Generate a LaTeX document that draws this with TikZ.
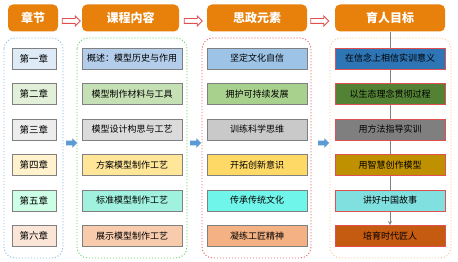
\documentclass[tikz,border=0pt]{standalone}
\usepackage{fontspec}
\newfontfamily\cjk{Noto Sans CJK SC}
\usetikzlibrary{shapes.arrows,backgrounds}
\definecolor{headorange}{RGB}{232,128,12}
\definecolor{boxgray}{RGB}{128,128,128}
\definecolor{boxred}{RGB}{224,80,80}
\definecolor{arrowblue}{RGB}{91,155,213}
% column 1 fills
\definecolor{ca1}{HTML}{DEEBF7}\definecolor{ca2}{HTML}{E2F0D9}\definecolor{ca3}{HTML}{EDEDED}
\definecolor{ca4}{HTML}{FFF2CC}\definecolor{ca5}{HTML}{CCFFE5}\definecolor{ca6}{HTML}{FBE5D6}
% column 2 fills
\definecolor{cb1}{HTML}{B4CDEA}\definecolor{cb2}{HTML}{C5E0B4}\definecolor{cb3}{HTML}{DBDBDB}
\definecolor{cb4}{HTML}{FFE699}\definecolor{cb5}{HTML}{A0F2DE}\definecolor{cb6}{HTML}{F8CBAD}
% column 3 fills
\definecolor{cc1}{HTML}{9DC3E6}\definecolor{cc2}{HTML}{A9D18E}\definecolor{cc3}{HTML}{C9C9C9}
\definecolor{cc4}{HTML}{FFD966}\definecolor{cc5}{HTML}{70F5EA}\definecolor{cc6}{HTML}{F4B183}
% column 4 fills
\definecolor{cd1}{HTML}{2E75B6}\definecolor{cd2}{HTML}{548235}\definecolor{cd3}{HTML}{7F7F7F}
\definecolor{cd4}{HTML}{BF9000}\definecolor{cd5}{HTML}{80E0E0}\definecolor{cd6}{HTML}{C55A11}
\begin{document}
\begin{tikzpicture}[x=1pt,y=-1pt,>=stealth,
  head/.style={fill=headorange,rounded corners=5pt,text=white,inner sep=0,
    font=\cjk\bfseries\fontsize{12}{12}\selectfont,minimum height=27pt},
  item/.style={draw=boxgray,line width=0.8pt,inner sep=0,minimum height=21pt,
    font=\cjk\fontsize{9}{9}\selectfont},
  chap/.style={item,minimum width=44pt,font=\cjk\fontsize{9.5}{9.5}\selectfont},
  wide/.style={item,minimum width=100pt},
  goal/.style={item,draw=boxred,minimum width=110pt},
  frame/.style={rounded corners=11pt,line width=0.9pt,dash pattern=on 1.1pt off 1.9pt},
  hollow/.style={single arrow,draw=boxred,fill=white,line width=0.8pt,inner sep=2pt,
    single arrow head extend=2.6pt,minimum height=18pt},
  solid/.style={single arrow,fill=arrowblue,inner sep=2.2pt,
    single arrow head extend=2.4pt,minimum height=11pt}]
\useasboundingbox (0,0) rectangle (458,262);

% headers
\node[head,minimum width=50pt] (h1) at (33,18) {章节};
\node[head,minimum width=97pt] (h2) at (130.5,18) {课程内容};
\node[head,minimum width=100pt] (h3) at (257,18) {思政元素};
\node[head,minimum width=110pt] (h4) at (390,18) {育人目标};
\node[hollow] (ha1) at (70,21) {};
\node[hollow] (ha2) at (192,21) {};
\node[hollow] (ha3) at (318.5,21) {};

% dotted frames
\draw[frame,draw=arrowblue!70] (4,38) rectangle (63,258);
\draw[frame,draw=green!70!black!60] (77,38) rectangle (187,258);
\draw[frame,draw=boxred!90] (202,38) rectangle (311,258);
\draw[frame,draw=orange!45] (330,38) rectangle (451,258);

% chapters
\node[chap,fill=ca1] (a1) at (34,58.5) {第一章};
\node[chap,fill=ca2] (a2) at (34,94) {第二章};
\node[chap,fill=ca3] (a3) at (34,129.5) {第三章};
\node[chap,fill=ca4] (a4) at (34,165) {第四章};
\node[chap,fill=ca5] (a5) at (34,200.5) {第五章};
\node[chap,fill=ca6] (a6) at (34,236) {第六章};

% course content
\node[wide,fill=cb1] (b1) at (132,58.5) {概述：模型历史与作用};
\node[wide,fill=cb2] (b2) at (132,94) {模型制作材料与工具};
\node[wide,fill=cb3] (b3) at (132,129.5) {模型设计构思与工艺};
\node[wide,fill=cb4] (b4) at (132,165) {方案模型制作工艺};
\node[wide,fill=cb5] (b5) at (132,200.5) {标准模型制作工艺};
\node[wide,fill=cb6] (b6) at (132,236) {展示模型制作工艺};

% ideological elements
\node[wide,fill=cc1] (c1) at (257,58.5) {坚定文化自信};
\node[wide,fill=cc2] (c2) at (257,94) {拥护可持续发展};
\node[wide,fill=cc3] (c3) at (257,129.5) {训练科学思维};
\node[wide,fill=cc4] (c4) at (257,165) {开拓创新意识};
\node[wide,fill=cc5] (c5) at (257,200.5) {传承传统文化};
\node[wide,fill=cc6] (c6) at (257,236) {凝练工匠精神};

% goals
\node[goal,fill=cd1] (d1) at (390,58.5) {在信念上相信实训意义};
\node[goal,fill=cd2] (d2) at (390,94) {以生态理念贯彻过程};
\node[goal,fill=cd3] (d3) at (390,129.5) {用方法指导实训};
\node[goal,fill=cd4] (d4) at (390,165) {用智慧创作模型};
\node[goal,fill=cd5] (d5) at (390,200.5) {讲好中国故事};
\node[goal,fill=cd6] (d6) at (390,236) {培育时代匠人};
\begin{pgfonlayer}{background}
\draw[boxgray,line width=0.8pt,->] (h4) -- (d6);
\end{pgfonlayer}

% block arrows between frames
\node[solid] (sa1) at (70.5,143) {};
\node[solid] (sa2) at (194.5,143) {};
\node[solid] (sa3) at (322.5,143) {};
\end{tikzpicture}
\end{document}
